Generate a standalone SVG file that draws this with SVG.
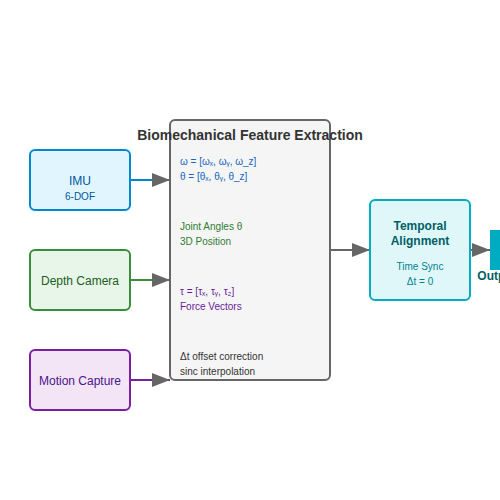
<svg xmlns="http://www.w3.org/2000/svg" width="500" height="500" viewBox="0 0 500 500">
<style>
text{font-family:"Liberation Sans",Arial,sans-serif}
.node{stroke-width:2}
.lbl{font-size:12px;text-anchor:middle}
.sub{font-size:10px;text-anchor:middle}
.ft{font-size:10px}
.conn{stroke-width:2;fill:none}
</style>
<defs>
<marker id="arr" markerWidth="10" markerHeight="8" refX="10" refY="4" orient="auto" markerUnits="userSpaceOnUse" viewBox="0 0 10 8" preserveAspectRatio="none">
<path d="M0,0 L10,4 L0,8 Z" fill="#666"/>
</marker>
<marker id="arrh" viewBox="0 0 10 8" refX="10" refY="4" markerWidth="18" markerHeight="14" markerUnits="userSpaceOnUse" orient="auto" preserveAspectRatio="none">
<path d="M0,0 L10,4 L0,8 Z" fill="#666"/>
</marker>
</defs>
<rect width="500" height="500" fill="#ffffff"/>
<g id="connectors">
<line class="conn" x1="130" y1="180" x2="170" y2="180" stroke="#0288d1" marker-end="url(#arrh)"/>
<line class="conn" x1="130" y1="280" x2="170" y2="280" stroke="#388e3c" marker-end="url(#arrh)"/>
<line class="conn" x1="130" y1="380" x2="170" y2="380" stroke="#7b1fa2" marker-end="url(#arrh)"/>
<line class="conn" x1="330" y1="250" x2="370" y2="250" stroke="#666" marker-end="url(#arrh)"/>
<line class="conn" x1="470" y1="250" x2="490" y2="250" stroke="#666" marker-end="url(#arrh)"/>
</g>
<g id="imu">
<rect class="node" x="30" y="150" width="100" height="60" rx="5" fill="#e1f5fe" stroke="#0288d1"/>
<text class="lbl" x="80" y="185" fill="#01579b">IMU</text>
<text class="sub" x="80" y="200" fill="#01579b">6-DOF</text>
</g>
<g id="depth">
<rect class="node" x="30" y="250" width="100" height="60" rx="5" fill="#e8f5e9" stroke="#388e3c"/>
<text class="lbl" x="80" y="285" fill="#1b5e20">Depth Camera</text>
</g>
<g id="mocap">
<rect class="node" x="30" y="350" width="100" height="60" rx="5" fill="#f3e5f5" stroke="#7b1fa2"/>
<text class="lbl" x="80" y="385" fill="#4a148c">Motion Capture</text>
</g>
<g id="features">
<rect class="node" x="170" y="120" width="160" height="260" rx="5" fill="#f5f5f5" stroke="#666"/>
<text x="250" y="140" font-size="14" font-weight="bold" text-anchor="middle" fill="#333">Biomechanical Feature Extraction</text>
<text class="ft" x="180" y="165" fill="#1565c0">ω = [ωₓ, ωᵧ, ω_z]</text>
<text class="ft" x="180" y="180" fill="#1565c0">θ = [θₓ, θᵧ, θ_z]</text>
<text class="ft" x="180" y="230" fill="#2e7d32">Joint Angles θ</text>
<text class="ft" x="180" y="245" fill="#2e7d32">3D Position</text>
<text class="ft" x="180" y="295" fill="#6a1b9a">τ = [τₓ, τᵧ, τ₂]</text>
<text class="ft" x="180" y="310" fill="#6a1b9a">Force Vectors</text>
<text class="ft" x="180" y="360" fill="#333">Δt offset correction</text>
<text class="ft" x="180" y="375" fill="#333">sinc interpolation</text>
</g>
<g id="temporal">
<rect class="node" x="370" y="200" width="100" height="100" rx="5" fill="#e0f7fa" stroke="#00acc1"/>
<text class="lbl" x="420" y="230" font-weight="bold" fill="#006064">Temporal</text>
<text class="lbl" x="420" y="245" font-weight="bold" fill="#006064">Alignment</text>
<text class="sub" x="420" y="270" fill="#00838f">Time Sync</text>
<text class="sub" x="420" y="285" fill="#00838f">Δt = 0</text>
</g>
<g id="output">
<rect x="490" y="230" width="40" height="40" fill="#00acc1"/>
<text class="lbl" x="497" y="280" font-weight="bold" fill="#006064">Output</text>
</g>
</svg>
